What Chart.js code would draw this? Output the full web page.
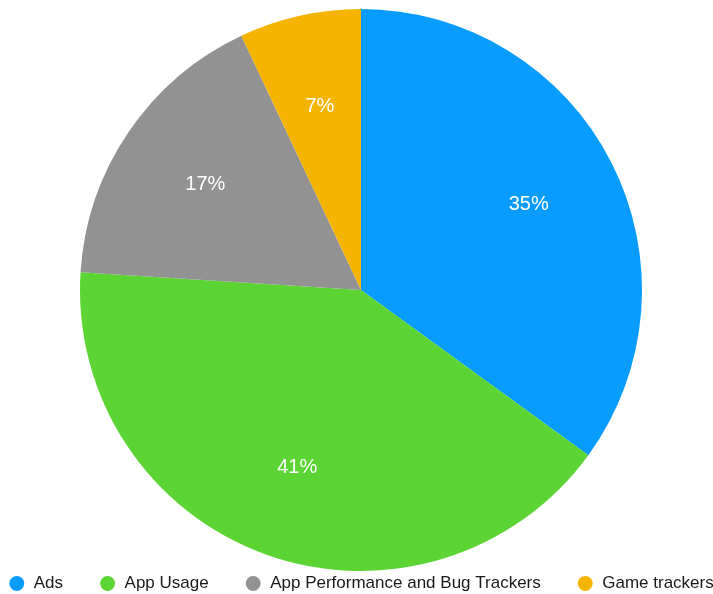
<!DOCTYPE html>
<html>
<head>
<meta charset="utf-8">
<script src="https://cdn.jsdelivr.net/npm/chart.js@4/dist/chart.umd.min.js"></script>
<style>
  html, body { margin: 0; padding: 0; background: #fff; }
  #wrap { position: relative; width: 713px; height: 594px; }
</style>
</head>
<body>
<div id="wrap"><canvas id="chart"></canvas></div>
<script>
// Tracker categories and their share (percent)
const categories = ['Ads', 'App Usage', 'App Performance and Bug Trackers', 'Game trackers'];
const shares = [35, 41, 17, 7];
const sliceColors = ['#089CFE', '#5BD434', '#929292', '#F5B400'];

const FONT = "'Liberation Sans', Arial, Helvetica, sans-serif";
const LEGEND_FONT_SIZE = 17;
const LEGEND_GAP = 36;       // horizontal space between legend entries
const LEGEND_ROW_Y = 583.5;  // vertical centre of the legend row
const LEGEND_BOX_H = 23;     // height reserved below the pie

// Percentage labels inside each slice
const sliceLabels = {
  id: 'sliceLabels',
  afterDatasetsDraw(chart) {
    const ctx = chart.ctx;
    const meta = chart.getDatasetMeta(0);
    ctx.save();
    ctx.font = '20px ' + FONT;
    ctx.fillStyle = '#ffffff';
    ctx.textAlign = 'center';
    ctx.textBaseline = 'middle';
    meta.data.forEach((arc, i) => {
      const p = arc.getProps(['x', 'y', 'startAngle', 'endAngle', 'outerRadius'], true);
      const mid = (p.startAngle + p.endAngle) / 2;
      const r = p.outerRadius * 0.67;
      ctx.fillText(shares[i] + '%', p.x + Math.cos(mid) * r, p.y + Math.sin(mid) * r);
    });
    ctx.restore();
  }
};

// Keep the legend on one compact row while spacing entries widely
const legendSpacing = {
  id: 'legendSpacing',
  beforeLayout(chart) {
    const lg = chart.legend;
    if (!lg || lg._compact) return;
    lg._compact = true;
    const fit = lg.fit.bind(lg);
    lg.fit = function () {
      const mw = this.maxWidth;
      this.maxWidth = 5000;
      fit();
      this.maxWidth = mw;
      this.width = mw;
      this.height = LEGEND_BOX_H;
    };
  },
  afterLayout(chart) {
    const lg = chart.legend;
    if (!lg) return;
    // centre the single row, widening the box so no entry wraps
    const lineW = lg.lineWidths[0];
    const start = (lg.left + LEGEND_GAP + lg.right - lineW) / 2;
    lg.right = start + lineW + 1;
    lg.left = start - LEGEND_GAP - 1;
    lg.width = lg.right - lg.left;
    lg.top = LEGEND_ROW_Y - LEGEND_FONT_SIZE / 2 - LEGEND_GAP;
    lg.bottom = chart.height;
    lg.height = lg.bottom - lg.top;
  }
};

new Chart(document.getElementById('chart'), {
  type: 'pie',
  data: {
    labels: categories,
    datasets: [{
      data: shares,
      backgroundColor: sliceColors,
      borderWidth: 0,
      hoverOffset: 0,
      clip: false
    }]
  },
  options: {
    responsive: true,
    maintainAspectRatio: false,
    animation: false,
    layout: { padding: { top: 9, left: 9, right: 0, bottom: 0 } },
    plugins: {
      tooltip: { enabled: false },
      legend: {
        position: 'bottom',
        labels: {
          usePointStyle: true,
          pointStyle: 'circle',
          boxWidth: 17,
          boxHeight: 10.5,
          padding: LEGEND_GAP,
          color: '#1a1a1a',
          font: { family: FONT, size: LEGEND_FONT_SIZE }
        }
      }
    }
  },
  plugins: [sliceLabels, legendSpacing]
});
</script>
</body>
</html>
